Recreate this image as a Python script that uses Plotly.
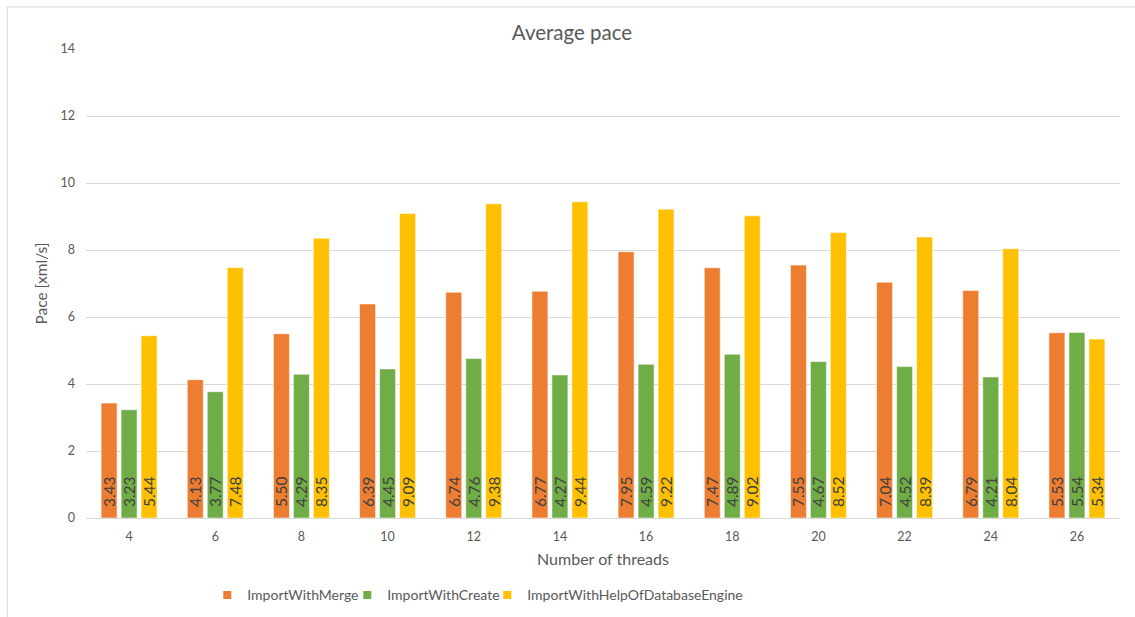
import plotly.graph_objects as go

# Thread counts and measured average pace (xml/s) per import strategy
threads = ["4", "6", "8", "10", "12", "14", "16", "18", "20", "22", "24", "26"]
merge_pace = [3.43, 4.13, 5.50, 6.39, 6.74, 6.77, 7.95, 7.47, 7.55, 7.04, 6.79, 5.53]
create_pace = [3.23, 3.77, 4.29, 4.45, 4.76, 4.27, 4.59, 4.89, 4.67, 4.52, 4.21, 5.54]
engine_pace = [5.44, 7.48, 8.35, 9.09, 9.38, 9.44, 9.22, 9.02, 8.52, 8.39, 8.04, 5.34]
y_ticks = [0, 2, 4, 6, 8, 10, 12, 14]

series = [
    ("ImportWithMerge", merge_pace, "#ED7D31", 95),
    ("ImportWithCreate", create_pace, "#70AD47", 95),
    ("ImportWithHelpOfDatabaseEngine", engine_pace, "#FFC000", 220),
]

FONT = "Lato"
TEXT_GREY = "#595959"
PAD = "\u00a0\u00a0"  # lifts the value labels a little above the bar base

fig = go.Figure()
for name, vals, color, key_width in series:
    fig.add_trace(go.Bar(
        x=threads, y=vals, name=name,
        marker=dict(color=color, line=dict(color="rgba(255,255,255,0.55)", width=1)),
        text=[f"{PAD}{v:.2f}" for v in vals],
        textposition="inside", insidetextanchor="start", textangle=-90,
        constraintext="none",
        insidetextfont=dict(family=FONT, size=15.5, color="#404040"),
        showlegend=False, hoverinfo="x+y",
    ))
    # small square legend keys
    fig.add_trace(go.Scatter(
        x=[None], y=[None], mode="markers", name=name,
        marker=dict(symbol="square", size=8, color=color),
        showlegend=True, legendwidth=key_width,
    ))

fig.update_layout(
    width=1135, height=617,
    margin=dict(l=86, r=15, t=49, b=99, autoexpand=False),
    paper_bgcolor="white", plot_bgcolor="white",
    font=dict(family=FONT, color=TEXT_GREY),
    title=dict(text="Average pace", x=0.504, xanchor="center", y=0.946, yanchor="middle",
               font=dict(family=FONT, size=20.5, color=TEXT_GREY)),
    barmode="group", bargap=0.304, bargroupgap=0.2,
    legend=dict(orientation="h", x=0.1173, xanchor="left", y=-0.165, yanchor="middle",
                font=dict(family=FONT, size=14, color=TEXT_GREY),
                itemwidth=30, entrywidthmode="pixels",
                bgcolor="rgba(0,0,0,0)"),
    xaxis=dict(
        type="category", range=[-0.5, 11.5],
        showgrid=False, showline=True, linecolor="#d9d9d9", linewidth=1,
        ticks="", ticklabelstandoff=7, tickfont=dict(family=FONT, size=12.5, color=TEXT_GREY),
        title=dict(text="Number of threads", font=dict(family=FONT, size=16, color=TEXT_GREY), standoff=10),
    ),
    yaxis=dict(
        range=[0, 14], tickvals=y_ticks, showgrid=True, gridcolor="#d9d9d9", gridwidth=1,
        zeroline=False, showline=False, ticks="", ticklabelstandoff=10,
        tickfont=dict(family=FONT, size=12.5, color=TEXT_GREY),
        title=dict(text="Pace [xml/s]", font=dict(family=FONT, size=15.5, color=TEXT_GREY), standoff=9),
    ),
    shapes=[
        dict(type="line", xref="paper", yref="paper", x0=-0.0762, x1=-0.0762, y0=1.0896, y1=-0.5,
             line=dict(color="#d9d9d9", width=1)),
        dict(type="line", xref="paper", yref="paper", x0=-0.0762, x1=1.2, y0=1.0896, y1=1.0896,
             line=dict(color="#d9d9d9", width=1)),
    ],
)

fig.write_html("out.html")
